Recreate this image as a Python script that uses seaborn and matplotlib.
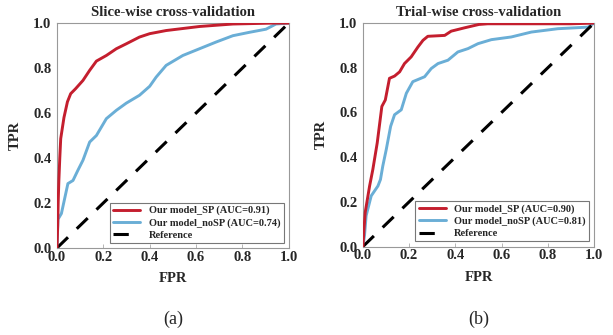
import pandas as pd
import matplotlib.pyplot as plt
import seaborn as sns

# ROC points (FPR, TPR)
slice_sp_fpr = [0.0, 0.003, 0.005, 0.008, 0.012, 0.016, 0.03, 0.045, 0.059, 0.08, 0.112, 0.141, 0.17, 0.213,
                0.256, 0.299, 0.356, 0.4, 0.471, 0.615, 0.759, 0.93, 1.0]
slice_sp_tpr = [0.0, 0.1, 0.2, 0.3, 0.4, 0.486, 0.58, 0.65, 0.686, 0.708, 0.745, 0.79, 0.831, 0.856,
                0.886, 0.908, 0.938, 0.953, 0.967, 0.985, 0.996, 1.0, 1.0]
slice_nosp_fpr = [0.0, 0.004, 0.019, 0.047, 0.069, 0.09, 0.112, 0.141, 0.17, 0.213, 0.256, 0.299, 0.356, 0.4,
                  0.428, 0.471, 0.543, 0.615, 0.687, 0.759, 0.83, 0.902, 0.945, 1.0]
slice_nosp_tpr = [0.0, 0.127, 0.153, 0.286, 0.30, 0.345, 0.39, 0.471, 0.5, 0.575, 0.612, 0.644, 0.679, 0.719,
                  0.76, 0.812, 0.856, 0.886, 0.916, 0.944, 0.959, 0.973, 0.996, 1.0]

trial_sp_fpr = [0.0, 0.005, 0.01, 0.029, 0.043, 0.062, 0.082, 0.097, 0.115, 0.137, 0.159, 0.18, 0.209, 0.238,
                0.26, 0.281, 0.354, 0.382, 0.44, 0.502, 0.54, 0.9, 1.0]
trial_sp_tpr = [0.0, 0.08, 0.153, 0.271, 0.345, 0.464, 0.627, 0.656, 0.753, 0.763, 0.782, 0.819, 0.849, 0.893,
                0.923, 0.941, 0.945, 0.964, 0.979, 0.994, 0.997, 0.997, 1.0]
trial_nosp_fpr = [0.0, 0.007, 0.014, 0.036, 0.065, 0.076, 0.086, 0.101, 0.12, 0.137, 0.166, 0.188, 0.216, 0.267,
                  0.296, 0.325, 0.368, 0.411, 0.455, 0.498, 0.556, 0.642, 0.729, 0.844, 0.974, 1.0]
trial_nosp_tpr = [0.0, 0.05, 0.138, 0.227, 0.271, 0.3, 0.36, 0.434, 0.538, 0.59, 0.612, 0.686, 0.738, 0.76,
                  0.797, 0.819, 0.834, 0.871, 0.886, 0.908, 0.926, 0.938, 0.96, 0.975, 0.982, 1.0]

titles = ['Slice-wise cross-validation', 'Trial-wise cross-validation']
auc_sp = [0.91, 0.90]
auc_nosp = [0.74, 0.81]
captions = ['(a)', '(b)']
ticks = [0, 0.2, 0.4, 0.6, 0.8, 1.0]
tick_labels = ['0.0', '0.2', '0.4', '0.6', '0.8', '1.0']

sns.set_style('white')
plt.rcParams['font.family'] = ['Liberation Serif', 'DejaVu Serif']

red = '#C41E2E'
blue = '#6AAED6'

fig = plt.figure(figsize=(6.13, 3.35), dpi=100)
axes = [fig.add_axes([0.093, 0.260, 0.378, 0.671]),
        fig.add_axes([0.592, 0.264, 0.377, 0.667])]

curves = [(slice_sp_fpr, slice_sp_tpr, slice_nosp_fpr, slice_nosp_tpr),
          (trial_sp_fpr, trial_sp_tpr, trial_nosp_fpr, trial_nosp_tpr)]

for i, ax in enumerate(axes):
    fsp, tsp, fno, tno = curves[i]
    sp = pd.DataFrame({'FPR': fsp, 'TPR': tsp})
    no = pd.DataFrame({'FPR': fno, 'TPR': tno})
    sns.lineplot(data=sp, x='FPR', y='TPR', ax=ax, color=red, lw=2.1, sort=False, estimator=None,
                 label='Our model_SP (AUC=%.2f)' % auc_sp[i], zorder=3)
    sns.lineplot(data=no, x='FPR', y='TPR', ax=ax, color=blue, lw=2.1, sort=False, estimator=None,
                 label='Our model_noSP (AUC=%.2f)' % auc_nosp[i], zorder=2)
    ax.plot([0, 1], [0, 1], color='black', lw=2.2, ls=(0, (5, 4)), label='Reference')

    ax.set_xlim(0, 1)
    ax.set_ylim(0, 1)
    ax.set_xticks(ticks)
    ax.set_yticks(ticks)
    ax.set_xticklabels(tick_labels, fontweight='bold', fontsize=10.5)
    ax.set_yticklabels(tick_labels, fontweight='bold', fontsize=10.5)
    ax.tick_params(axis='x', direction='in', length=3, width=0.6, color='#aaaaaa', pad=2, bottom=True)
    ax.tick_params(axis='y', length=0, pad=4)
    for s in ax.spines.values():
        s.set_color('#999999')
        s.set_linewidth(0.8)
    ax.set_xlabel('FPR', fontweight='bold', fontsize=10.5, labelpad=6)
    ax.set_ylabel('TPR', fontweight='bold', fontsize=10.5, labelpad=8)
    ax.set_title(titles[i], fontweight='bold', fontsize=10.5, pad=5)

    leg = ax.legend(loc='lower right', prop={'weight': 'bold', 'size': 7.5},
                    frameon=True, fancybox=False, edgecolor='#777777', framealpha=1,
                    handlelength=2.6, borderpad=0.3, labelspacing=0.25, borderaxespad=0.5)
    leg.get_frame().set_linewidth(0.8)

    bb = ax.get_position()
    fig.text(bb.x0 + bb.width / 2, 0.02, captions[i], ha='center', va='bottom', fontsize=13)

fig.savefig('out.png', dpi=100)
